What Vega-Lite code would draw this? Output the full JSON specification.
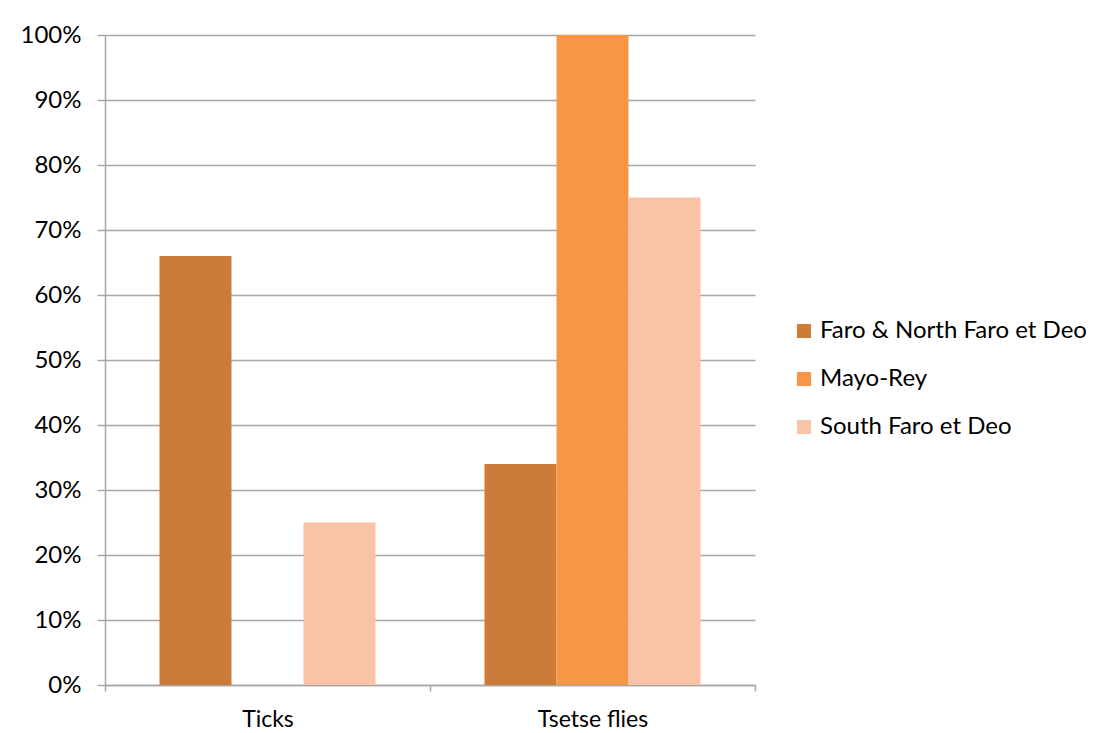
{
  "$schema": "https://vega.github.io/schema/vega-lite/v6.json",
  "width": 650,
  "height": 650,
  "autosize": {"type": "none"},
  "padding": {"left": 105, "top": 35, "right": 351, "bottom": 48},
  "background": "white",
  "config": {
    "font": "Lato",
    "view": {"stroke": null}
  },
  "data": {
    "values": [
      {"category": "Ticks", "region": "Faro & North Faro et Deo", "value": 0.66},
      {"category": "Ticks", "region": "Mayo-Rey", "value": 0},
      {"category": "Ticks", "region": "South Faro et Deo", "value": 0.25},
      {"category": "Tsetse flies", "region": "Faro & North Faro et Deo", "value": 0.34},
      {"category": "Tsetse flies", "region": "Mayo-Rey", "value": 1.0},
      {"category": "Tsetse flies", "region": "South Faro et Deo", "value": 0.75}
    ]
  },
  "mark": {"type": "bar"},
  "encoding": {
    "x": {
      "field": "category",
      "type": "nominal",
      "scale": {"paddingInner": 0, "paddingOuter": 0},
      "axis": {
        "title": null,
        "labelAngle": 0,
        "labelFontSize": 23,
        "labelColor": "#000000",
        "labelPadding": 17,
        "tickBand": "extent",
        "tickSize": 6,
        "tickColor": "#A6A6A6",
        "domainColor": "#A6A6A6",
        "domainWidth": 1.5,
        "tickWidth": 1.5
      }
    },
    "xOffset": {
      "field": "region",
      "type": "nominal",
      "scale": {"paddingInner": 0, "paddingOuter": 0.757}
    },
    "y": {
      "field": "value",
      "type": "quantitative",
      "scale": {"domain": [0, 1], "nice": false},
      "axis": {
        "title": null,
        "format": ".0%",
        "values": [0, 0.1, 0.2, 0.3, 0.4, 0.5, 0.6, 0.7, 0.8, 0.9, 1.0],
        "labelOverlap": false,
        "labelFontSize": 24,
        "labelColor": "#000000",
        "labelPadding": 16,
        "tickSize": 8,
        "tickColor": "#A6A6A6",
        "tickWidth": 1.5,
        "domainColor": "#A6A6A6",
        "domainWidth": 1.5,
        "grid": true,
        "gridColor": "#A6A6A6",
        "gridWidth": 1.5
      }
    },
    "color": {
      "field": "region",
      "type": "nominal",
      "scale": {
        "domain": ["Faro & North Faro et Deo", "Mayo-Rey", "South Faro et Deo"],
        "range": ["#CD7B38", "#F79646", "#F9C3A8"]
      },
      "legend": {
        "title": null,
        "orient": "none",
        "legendX": 687,
        "legendY": 284,
        "symbolType": "square",
        "symbolSize": 200,
        "symbolStrokeWidth": 0,
        "labelFontSize": 24,
        "labelLimit": 400,
        "labelColor": "#000000",
        "labelOffset": 4,
        "rowPadding": 24,
        "symbolOpacity": 1
      }
    }
  }
}
